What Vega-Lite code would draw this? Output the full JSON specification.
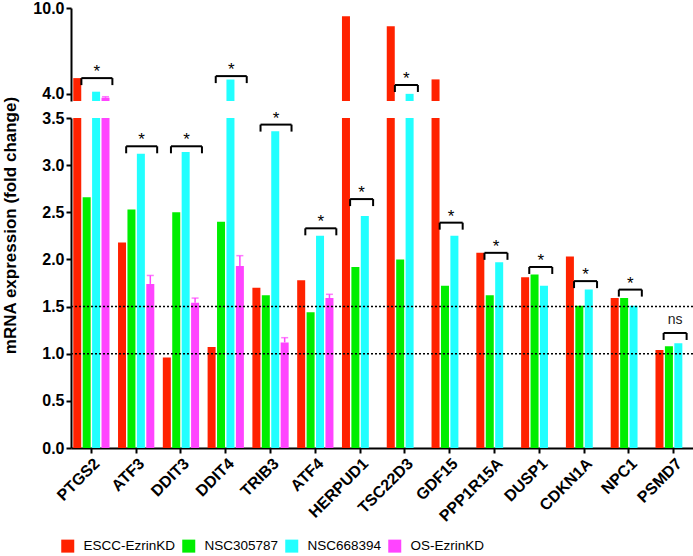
{
  "$schema": "https://vega.github.io/schema/vega-lite/v6.json",
  "padding": {"left": 0, "top": 0, "right": 0, "bottom": 0},
  "background": "white",
  "bounds": "flush",
  "config": {
    "view": {"stroke": null},
    "font": "Liberation Sans",
    "axis": {
      "grid": false,
      "domainColor": "black",
      "domainWidth": 2,
      "tickColor": "black",
      "tickWidth": 2,
      "tickSize": 5,
      "labelFontSize": 16,
      "labelFontWeight": "bold",
      "labelColor": "black",
      "labelPadding": 2,
      "titleColor": "black"
    },
    "legend": {
      "orient": "none",
      "legendX": -10,
      "legendY": 531,
      "direction": "horizontal",
      "title": null,
      "symbolType": "square",
      "symbolSize": 169,
      "symbolStrokeWidth": 0,
      "labelFontSize": 13.5,
      "labelOffset": 9,
      "labelColor": "black",
      "columnPadding": 6,
      "labelLimit": 200
    }
  },
  "datasets": {
    "bars": [
      {"gene": "PTGS2", "series": "ESCC-EzrinKD", "value": 5.1},
      {"gene": "PTGS2", "series": "NSC305787", "value": 2.66},
      {"gene": "PTGS2", "series": "NSC668394", "value": 4.15},
      {"gene": "PTGS2", "series": "OS-EzrinKD", "value": 3.73, "errTop": 3.8},
      {"gene": "ATF3", "series": "ESCC-EzrinKD", "value": 2.18},
      {"gene": "ATF3", "series": "NSC305787", "value": 2.53},
      {"gene": "ATF3", "series": "NSC668394", "value": 3.12},
      {"gene": "ATF3", "series": "OS-EzrinKD", "value": 1.74, "errTop": 1.83},
      {"gene": "DDIT3", "series": "ESCC-EzrinKD", "value": 0.96},
      {"gene": "DDIT3", "series": "NSC305787", "value": 2.5},
      {"gene": "DDIT3", "series": "NSC668394", "value": 3.14},
      {"gene": "DDIT3", "series": "OS-EzrinKD", "value": 1.54, "errTop": 1.59},
      {"gene": "DDIT4", "series": "ESCC-EzrinKD", "value": 1.07},
      {"gene": "DDIT4", "series": "NSC305787", "value": 2.4},
      {"gene": "DDIT4", "series": "NSC668394", "value": 5.0},
      {"gene": "DDIT4", "series": "OS-EzrinKD", "value": 1.93, "errTop": 2.04},
      {"gene": "TRIB3", "series": "ESCC-EzrinKD", "value": 1.7},
      {"gene": "TRIB3", "series": "NSC305787", "value": 1.62},
      {"gene": "TRIB3", "series": "NSC668394", "value": 3.36},
      {"gene": "TRIB3", "series": "OS-EzrinKD", "value": 1.12, "errTop": 1.17},
      {"gene": "ATF4", "series": "ESCC-EzrinKD", "value": 1.78},
      {"gene": "ATF4", "series": "NSC305787", "value": 1.44},
      {"gene": "ATF4", "series": "NSC668394", "value": 2.25},
      {"gene": "ATF4", "series": "OS-EzrinKD", "value": 1.59, "errTop": 1.63},
      {"gene": "HERPUD1", "series": "ESCC-EzrinKD", "value": 9.43},
      {"gene": "HERPUD1", "series": "NSC305787", "value": 1.92},
      {"gene": "HERPUD1", "series": "NSC668394", "value": 2.46},
      {"gene": "TSC22D3", "series": "ESCC-EzrinKD", "value": 8.73},
      {"gene": "TSC22D3", "series": "NSC305787", "value": 2.0},
      {"gene": "TSC22D3", "series": "NSC668394", "value": 4.0},
      {"gene": "GDF15", "series": "ESCC-EzrinKD", "value": 5.01},
      {"gene": "GDF15", "series": "NSC305787", "value": 1.72},
      {"gene": "GDF15", "series": "NSC668394", "value": 2.25},
      {"gene": "PPP1R15A", "series": "ESCC-EzrinKD", "value": 2.07},
      {"gene": "PPP1R15A", "series": "NSC305787", "value": 1.62},
      {"gene": "PPP1R15A", "series": "NSC668394", "value": 1.97},
      {"gene": "DUSP1", "series": "ESCC-EzrinKD", "value": 1.81},
      {"gene": "DUSP1", "series": "NSC305787", "value": 1.84},
      {"gene": "DUSP1", "series": "NSC668394", "value": 1.72},
      {"gene": "CDKN1A", "series": "ESCC-EzrinKD", "value": 2.03},
      {"gene": "CDKN1A", "series": "NSC305787", "value": 1.51},
      {"gene": "CDKN1A", "series": "NSC668394", "value": 1.68},
      {"gene": "NPC1", "series": "ESCC-EzrinKD", "value": 1.59},
      {"gene": "NPC1", "series": "NSC305787", "value": 1.59},
      {"gene": "NPC1", "series": "NSC668394", "value": 1.51},
      {"gene": "PSMD7", "series": "ESCC-EzrinKD", "value": 1.04},
      {"gene": "PSMD7", "series": "NSC305787", "value": 1.08},
      {"gene": "PSMD7", "series": "NSC668394", "value": 1.11}
    ],
    "brackets": [
      {"gene": "PTGS2", "level": 5.1, "label": "*", "n": 4},
      {"gene": "ATF3", "level": 3.2, "label": "*", "n": 4},
      {"gene": "DDIT3", "level": 3.2, "label": "*", "n": 4},
      {"gene": "DDIT4", "level": 5.24, "label": "*", "n": 4},
      {"gene": "TRIB3", "level": 3.43, "label": "*", "n": 4},
      {"gene": "ATF4", "level": 2.33, "label": "*", "n": 4},
      {"gene": "HERPUD1", "level": 2.64, "label": "*", "n": 3},
      {"gene": "TSC22D3", "level": 4.62, "label": "*", "n": 3},
      {"gene": "GDF15", "level": 2.39, "label": "*", "n": 3},
      {"gene": "PPP1R15A", "level": 2.07, "label": "*", "n": 3},
      {"gene": "DUSP1", "level": 1.92, "label": "*", "n": 3},
      {"gene": "CDKN1A", "level": 1.77, "label": "*", "n": 3},
      {"gene": "NPC1", "level": 1.68, "label": "*", "n": 3},
      {"gene": "PSMD7", "level": 1.22, "label": "ns", "n": 3}
    ],
    "refs": [{"ref": 1.0}, {"ref": 1.5}]
  },
  "spacing": 17,
  "resolve": {"scale": {"x": "shared", "xOffset": "shared", "color": "shared"}},
  "vconcat": [
    {
      "width": 623,
      "height": 93,
      "encoding": {
        "x": {"field": "gene", "type": "nominal", "sort": ["PTGS2","ATF3","DDIT3","DDIT4","TRIB3","ATF4","HERPUD1","TSC22D3","GDF15","PPP1R15A","DUSP1","CDKN1A","NPC1","PSMD7"], "scale": {"paddingInner": 0.19, "paddingOuter": 0.05}, "axis": null}
      },
      "layer": [
        {
          "data": {"name": "bars"},
          "mark": {"type": "bar", "clip": true},
          "encoding": {
            "xOffset": {"field": "series", "type": "nominal", "sort": ["ESCC-EzrinKD","NSC305787","NSC668394","OS-EzrinKD"], "scale": {"paddingInner": 0.15, "paddingOuter": 0}},
            "y": {"field": "value", "type": "quantitative", "scale": {"domain": [3.5, 10], "zero": false, "nice": false}, "axis": {"values": [4, 6, 8, 10], "format": ".1f", "title": null}},
            "color": {"field": "series", "type": "nominal", "scale": {"domain": ["ESCC-EzrinKD","NSC305787","NSC668394","OS-EzrinKD"], "range": ["#FF2200","#00EE00","#22FFFF","#FF44FF"]}}
          }
        },
        {
          "data": {"name": "bars"},
          "transform": [{"filter": "isValid(datum.errTop) && datum.errTop >= 3.5"}],
          "mark": {"type": "rule", "color": "#FF44FF", "strokeWidth": 1.5},
          "encoding": {
            "xOffset": {"field": "series", "type": "nominal"},
            "y": {"field": "value", "type": "quantitative"},
            "y2": {"field": "errTop"}
          }
        },
        {
          "data": {"name": "bars"},
          "transform": [{"filter": "isValid(datum.errTop) && datum.errTop >= 3.5"}],
          "mark": {"type": "tick", "orient": "horizontal", "color": "#FF44FF", "size": 7, "thickness": 1.5},
          "encoding": {
            "xOffset": {"field": "series", "type": "nominal"},
            "y": {"field": "errTop", "type": "quantitative"}
          }
        },
        {
          "data": {"name": "brackets"},
          "transform": [{"filter": "datum.level >= 3.5 && datum.n == 4"}],
          "mark": {"type": "rule", "color": "black", "strokeWidth": 2, "xOffset": -10, "x2Offset": 21},
          "encoding": {"x2": {"field": "gene"}, "y": {"field": "level", "type": "quantitative"}}
        },
        {
          "data": {"name": "brackets"},
          "transform": [{"filter": "datum.level >= 3.5 && datum.n == 3"}],
          "mark": {"type": "rule", "color": "black", "strokeWidth": 2, "xOffset": -10, "x2Offset": 13},
          "encoding": {"x2": {"field": "gene"}, "y": {"field": "level", "type": "quantitative"}}
        },
        {
          "data": {"name": "brackets"},
          "transform": [{"filter": "datum.level >= 3.5"}],
          "mark": {"type": "rule", "color": "black", "strokeWidth": 2, "xOffset": -10, "y2Offset": 7},
          "encoding": {"y": {"field": "level", "type": "quantitative"}, "y2": {"field": "level"}}
        },
        {
          "data": {"name": "brackets"},
          "transform": [{"filter": "datum.level >= 3.5 && datum.n == 4"}],
          "mark": {"type": "rule", "color": "black", "strokeWidth": 2, "xOffset": 21, "y2Offset": 7},
          "encoding": {"y": {"field": "level", "type": "quantitative"}, "y2": {"field": "level"}}
        },
        {
          "data": {"name": "brackets"},
          "transform": [{"filter": "datum.level >= 3.5 && datum.n == 3"}],
          "mark": {"type": "rule", "color": "black", "strokeWidth": 2, "xOffset": 13, "y2Offset": 7},
          "encoding": {"y": {"field": "level", "type": "quantitative"}, "y2": {"field": "level"}}
        },
        {
          "data": {"name": "brackets"},
          "transform": [{"filter": "datum.level >= 3.5 && datum.n == 4"}],
          "mark": {"type": "text", "fontSize": 17, "dx": 5.5, "dy": -1, "baseline": "alphabetic", "color": "black"},
          "encoding": {"y": {"field": "level", "type": "quantitative"}, "text": {"field": "label"}}
        },
        {
          "data": {"name": "brackets"},
          "transform": [{"filter": "datum.level >= 3.5 && datum.n == 3"}],
          "mark": {"type": "text", "fontSize": 17, "dx": 1.5, "dy": -1, "baseline": "alphabetic", "color": "black"},
          "encoding": {"y": {"field": "level", "type": "quantitative"}, "text": {"field": "label"}}
        }
      ]
    },
    {
      "width": 623,
      "height": 330,
      "encoding": {
        "x": {"field": "gene", "type": "nominal", "sort": ["PTGS2","ATF3","DDIT3","DDIT4","TRIB3","ATF4","HERPUD1","TSC22D3","GDF15","PPP1R15A","DUSP1","CDKN1A","NPC1","PSMD7"], "scale": {"paddingInner": 0.19, "paddingOuter": 0.05}, "axis": {"title": null, "labelAngle": -45, "labelFontSize": 16}}
      },
      "layer": [
        {
          "data": {"name": "bars"},
          "mark": {"type": "bar", "clip": true},
          "encoding": {
            "xOffset": {"field": "series", "type": "nominal", "sort": ["ESCC-EzrinKD","NSC305787","NSC668394","OS-EzrinKD"], "scale": {"paddingInner": 0.15, "paddingOuter": 0}},
            "y": {"field": "value", "type": "quantitative", "scale": {"domain": [0, 3.5], "nice": false}, "axis": {"values": [0, 0.5, 1, 1.5, 2, 2.5, 3, 3.5], "format": ".1f", "title": "mRNA expression (fold change)", "titleFontSize": 17, "titleFontWeight": "bold", "titleX": -52, "titleY": 107}},
            "color": {"field": "series", "type": "nominal", "scale": {"domain": ["ESCC-EzrinKD","NSC305787","NSC668394","OS-EzrinKD"], "range": ["#FF2200","#00EE00","#22FFFF","#FF44FF"]}}
          }
        },
        {
          "data": {"name": "refs"},
          "mark": {"type": "rule", "color": "black", "strokeWidth": 1.5, "strokeDash": [2, 2]},
          "encoding": {"x": {"value": 0}, "x2": {"value": "width"}, "y": {"field": "ref", "type": "quantitative"}}
        },
        {
          "data": {"name": "bars"},
          "transform": [{"filter": "isValid(datum.errTop) && datum.errTop < 3.5"}],
          "mark": {"type": "rule", "color": "#FF44FF", "strokeWidth": 1.5},
          "encoding": {
            "xOffset": {"field": "series", "type": "nominal"},
            "y": {"field": "value", "type": "quantitative"},
            "y2": {"field": "errTop"}
          }
        },
        {
          "data": {"name": "bars"},
          "transform": [{"filter": "isValid(datum.errTop) && datum.errTop < 3.5"}],
          "mark": {"type": "tick", "orient": "horizontal", "color": "#FF44FF", "size": 7, "thickness": 1.5},
          "encoding": {
            "xOffset": {"field": "series", "type": "nominal"},
            "y": {"field": "errTop", "type": "quantitative"}
          }
        },
        {
          "data": {"name": "brackets"},
          "transform": [{"filter": "datum.level < 3.5 && datum.n == 4"}],
          "mark": {"type": "rule", "color": "black", "strokeWidth": 2, "xOffset": -10, "x2Offset": 21},
          "encoding": {"x2": {"field": "gene"}, "y": {"field": "level", "type": "quantitative"}}
        },
        {
          "data": {"name": "brackets"},
          "transform": [{"filter": "datum.level < 3.5 && datum.n == 3"}],
          "mark": {"type": "rule", "color": "black", "strokeWidth": 2, "xOffset": -10, "x2Offset": 13},
          "encoding": {"x2": {"field": "gene"}, "y": {"field": "level", "type": "quantitative"}}
        },
        {
          "data": {"name": "brackets"},
          "transform": [{"filter": "datum.level < 3.5"}],
          "mark": {"type": "rule", "color": "black", "strokeWidth": 2, "xOffset": -10, "y2Offset": 7},
          "encoding": {"y": {"field": "level", "type": "quantitative"}, "y2": {"field": "level"}}
        },
        {
          "data": {"name": "brackets"},
          "transform": [{"filter": "datum.level < 3.5 && datum.n == 4"}],
          "mark": {"type": "rule", "color": "black", "strokeWidth": 2, "xOffset": 21, "y2Offset": 7},
          "encoding": {"y": {"field": "level", "type": "quantitative"}, "y2": {"field": "level"}}
        },
        {
          "data": {"name": "brackets"},
          "transform": [{"filter": "datum.level < 3.5 && datum.n == 3"}],
          "mark": {"type": "rule", "color": "black", "strokeWidth": 2, "xOffset": 13, "y2Offset": 7},
          "encoding": {"y": {"field": "level", "type": "quantitative"}, "y2": {"field": "level"}}
        },
        {
          "data": {"name": "brackets"},
          "transform": [{"filter": "datum.level < 3.5 && datum.n == 4"}],
          "mark": {"type": "text", "fontSize": 17, "dx": 5.5, "dy": -1, "baseline": "alphabetic", "color": "black"},
          "encoding": {"y": {"field": "level", "type": "quantitative"}, "text": {"field": "label"}}
        },
        {
          "data": {"name": "brackets"},
          "transform": [{"filter": "datum.level < 3.5 && datum.n == 3 && datum.label == '*'"}],
          "mark": {"type": "text", "fontSize": 17, "dx": 1.5, "dy": -1, "baseline": "alphabetic", "color": "black"},
          "encoding": {"y": {"field": "level", "type": "quantitative"}, "text": {"field": "label"}}
        },
        {
          "data": {"name": "brackets"},
          "transform": [{"filter": "datum.label == 'ns'"}],
          "mark": {"type": "text", "fontSize": 14, "dx": 1.5, "dy": -9, "baseline": "alphabetic", "color": "#222"},
          "encoding": {"y": {"field": "level", "type": "quantitative"}, "text": {"field": "label"}}
        }
      ]
    }
  ]
}
